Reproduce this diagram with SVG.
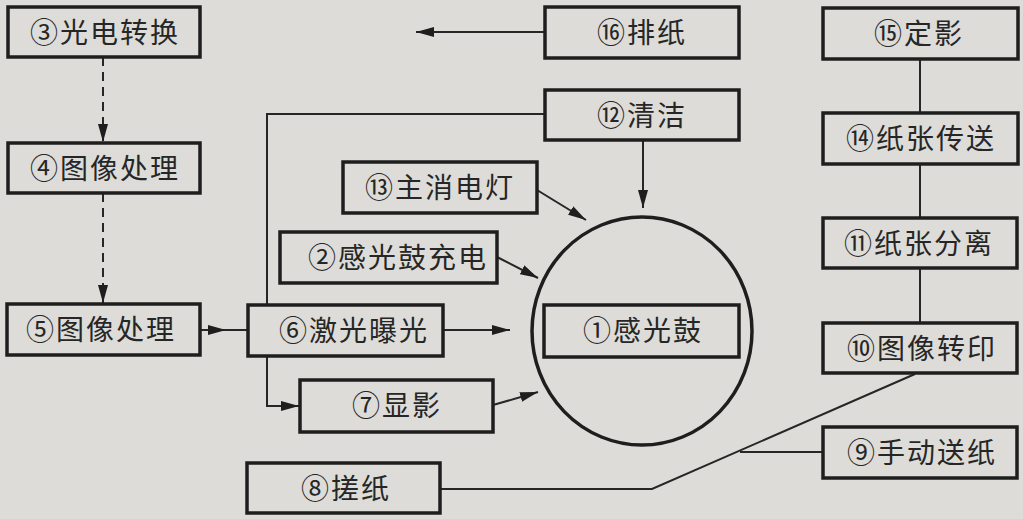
<svg xmlns="http://www.w3.org/2000/svg" width="1023" height="519" viewBox="0 0 1023 519">
<style>
.box{fill:none;stroke:#1e1e1e;stroke-width:3.5}
.t{font-family:"Noto Sans CJK SC","Noto Sans CJK JP",sans-serif;font-size:28px;fill:#262626;text-anchor:middle;letter-spacing:2px}
.c{fill:none;stroke:#262626;stroke-width:2}
.a{marker-end:url(#ah)}
.d{stroke-dasharray:9 6}
</style>
<defs>
<marker id="ah" markerWidth="18" markerHeight="10" refX="18" refY="5" orient="auto" markerUnits="userSpaceOnUse">
<path d="M0,0 L18,5 L0,10 Z" fill="#1e1e1e"/>
</marker>
</defs>
<rect width="1023" height="519" fill="#dddcd8"/>
<g id="connectors">
<line class="c d a" x1="103" y1="57" x2="103" y2="142"/>
<line class="c d a" x1="103" y1="193" x2="103" y2="303"/>
<line class="c a" x1="201" y1="330" x2="226" y2="330"/>
<line class="c" x1="224" y1="330" x2="248" y2="330"/>
<line class="c a" x1="443" y1="330" x2="510" y2="330"/>
<polyline class="c" points="545,114 267,114 267,305"/>
<polyline class="c a" points="267,356 267,406 299,406"/>
<line class="c a" x1="493" y1="405" x2="538" y2="392"/>
<line class="c a" x1="497" y1="257" x2="538" y2="278"/>
<line class="c a" x1="537" y1="190" x2="586" y2="220"/>
<line class="c a" x1="643" y1="140" x2="643" y2="208"/>
<line class="c a" x1="545" y1="32" x2="416" y2="32"/>
<line class="c" x1="920" y1="59" x2="920" y2="113"/>
<line class="c" x1="920" y1="164" x2="920" y2="218"/>
<line class="c" x1="920" y1="268" x2="920" y2="323"/>
<polyline class="c" points="440,489 652,489 915,374"/>
<line class="c" x1="740" y1="452" x2="823" y2="452"/>
</g>
<g id="n1"><ellipse cx="642" cy="331" rx="110" ry="114" fill="none" stroke="#1e1e1e" stroke-width="3.5"/><rect class="box" x="544" y="305" width="195" height="52"/><text class="t" x="643" y="341">①感光鼓</text></g>
<g id="n2"><rect class="box" x="280" y="232" width="217" height="51"/><text class="t" x="398" y="268">②感光鼓充电</text></g>
<g id="n3"><rect class="box" x="8" y="7" width="192" height="50"/><text class="t" x="105" y="43">③光电转换</text></g>
<g id="n4"><rect class="box" x="8" y="143" width="192" height="50"/><text class="t" x="105" y="179">④图像处理</text></g>
<g id="n5"><rect class="box" x="7" y="304" width="193" height="51"/><text class="t" x="101" y="340">⑤图像处理</text></g>
<g id="n6"><rect class="box" x="248" y="305" width="195" height="51"/><text class="t" x="354" y="341">⑥激光曝光</text></g>
<g id="n7"><rect class="box" x="300" y="380" width="193" height="52"/><text class="t" x="397" y="416">⑦显影</text></g>
<g id="n8"><rect class="box" x="247" y="463" width="193" height="50"/><text class="t" x="346" y="499">⑧搓纸</text></g>
<g id="n9"><rect class="box" x="823" y="427" width="194" height="51"/><text class="t" x="922" y="463">⑨手动送纸</text></g>
<g id="n10"><rect class="box" x="823" y="323" width="194" height="50"/><text class="t" x="922" y="359">⑩图像转印</text></g>
<g id="n11"><rect class="box" x="823" y="218" width="194" height="50"/><text class="t" x="919" y="254">⑪纸张分离</text></g>
<g id="n12"><rect class="box" x="545" y="90" width="194" height="50"/><text class="t" x="642" y="126">⑫清洁</text></g>
<g id="n13"><rect class="box" x="343" y="162" width="194" height="51"/><text class="t" x="440" y="198">⑬主消电灯</text></g>
<g id="n14"><rect class="box" x="823" y="113" width="195" height="51"/><text class="t" x="921" y="149">⑭纸张传送</text></g>
<g id="n15"><rect class="box" x="823" y="8" width="195" height="51"/><text class="t" x="919" y="44">⑮定影</text></g>
<g id="n16"><rect class="box" x="545" y="7" width="194" height="51"/><text class="t" x="642" y="43">⑯排纸</text></g>
</svg>
